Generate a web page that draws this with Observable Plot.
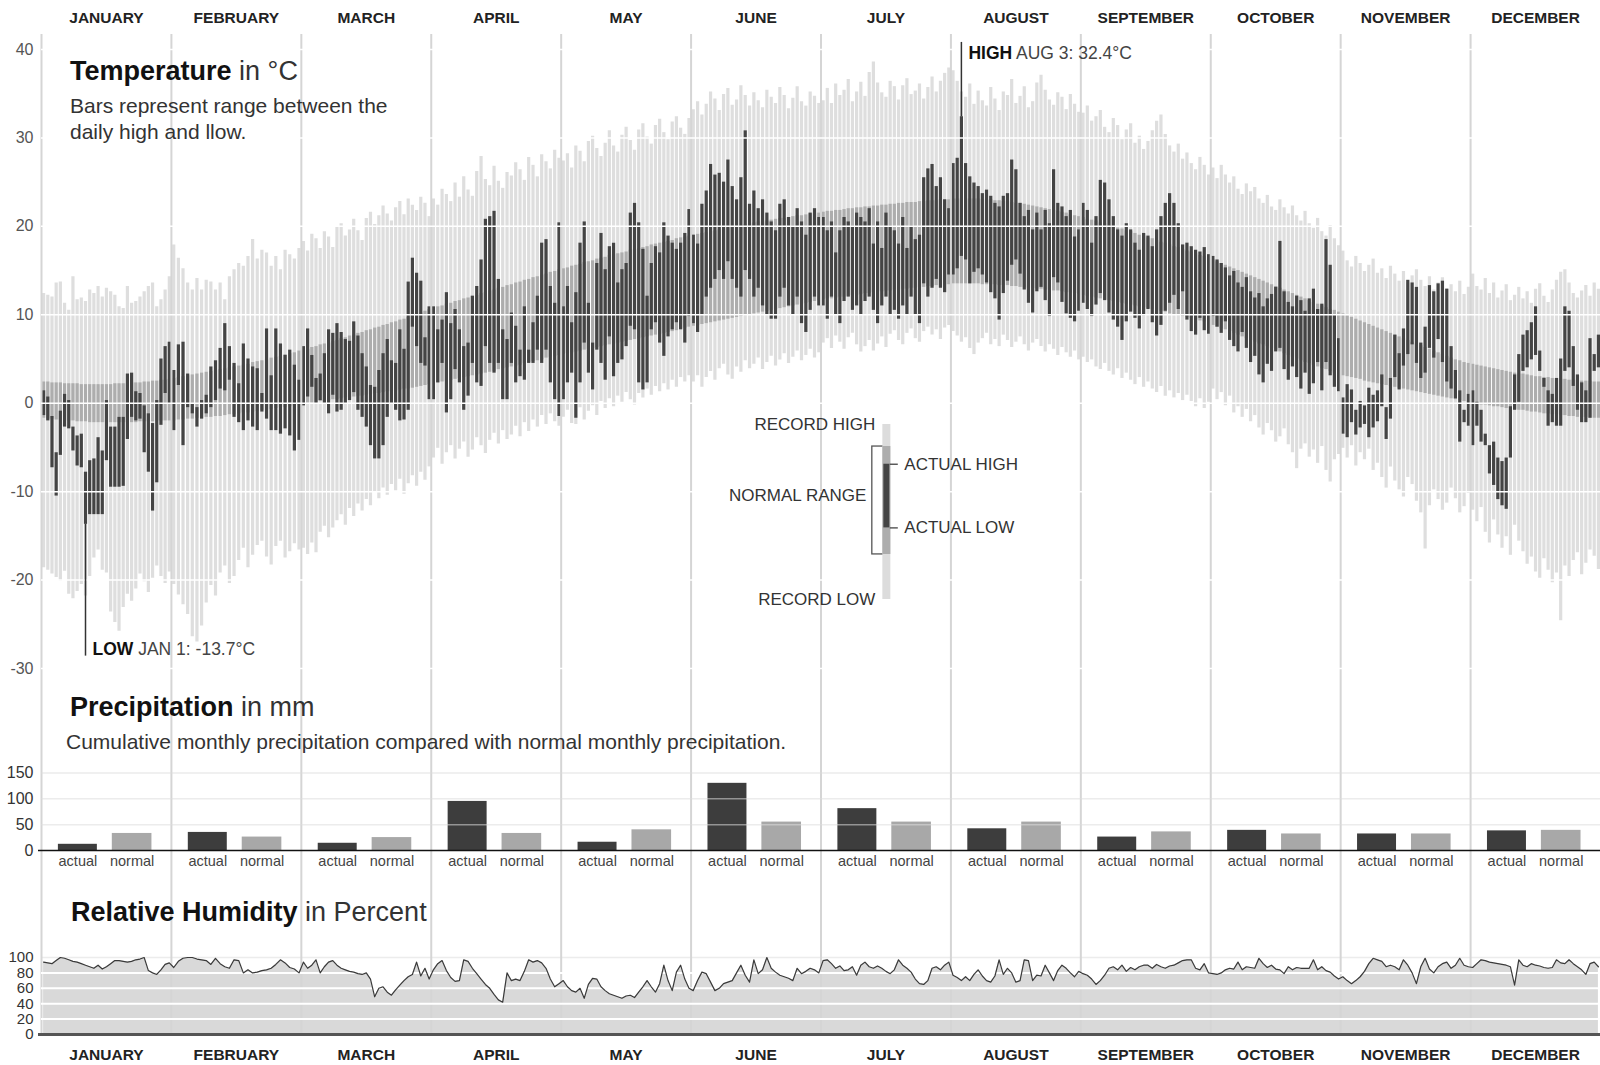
<!DOCTYPE html>
<html><head><meta charset="utf-8">
<script src="https://cdn.jsdelivr.net/npm/d3@7"></script>
<script src="https://cdn.jsdelivr.net/npm/@observablehq/plot@0.6"></script>
<style>
body{margin:0;background:#fff;}
#chart{position:relative;width:1600px;height:1065px;font-family:"Liberation Sans",Arial,Helvetica,sans-serif;color:#222;overflow:hidden;background:#fff}
#chart svg{position:absolute;left:0}
.title{position:absolute;font-size:27px;line-height:27px;white-space:nowrap;color:#111;font-weight:700}
.title span{font-weight:400;color:#333}
.sub{position:absolute;font-size:21px;line-height:26px;color:#333;white-space:nowrap}
</style></head><body><div id="chart"></div>
<script>
const FONT = '"Liberation Sans", Arial, Helvetica, sans-serif';
const months = ["JANUARY","FEBRUARY","MARCH","APRIL","MAY","JUNE","JULY","AUGUST","SEPTEMBER","OCTOBER","NOVEMBER","DECEMBER"];
const daysInMonth = [31,28,31,30,31,30,31,31,30,31,30,31];
const tempTicks = [-30,-20,-10,0,10,20,30,40];
const precipTicks = [0,50,100,150];
const humidityTicks = [0,20,40,60,80,100];

const recordHigh = [
12.4,12.2,12.0,13.6,13.7,11.3,10.5,14.3,11.7,11.9,11.5,12.8,12.4,13.2,12.0,13.0,12.6,12.2,10.9,10.7,13.2,11.3,11.5,12.0,12.6,13.2,13.6,10.9,11.7,12.8,14.3,
17.9,16.4,15.2,13.6,12.8,14.1,12.8,13.9,13.7,12.8,13.6,11.7,14.3,15.1,15.8,15.5,16.6,18.5,16.3,17.3,17.0,15.5,16.6,15.1,17.3,16.8,16.3,17.5,
18.3,17.2,19.1,18.6,17.5,19.4,18.8,17.6,19.9,20.3,18.9,19.6,20.8,19.5,18.4,20.9,21.6,20.2,21.2,22.3,21.4,20.6,22.1,22.8,21.3,23.1,22.4,21.8,23.3,22.6,21.1,
23.1,22.4,24.2,23.6,22.8,24.9,23.3,25.6,24.1,23.4,26.2,27.9,25.3,24.6,26.8,25.1,24.3,26.1,25.7,27.2,26.4,25.2,27.8,26.9,25.6,28.1,27.3,26.5,28.6,27.7,
27.4,28.2,26.6,29.1,28.5,27.3,29.6,30.2,28.8,27.9,29.4,30.8,29.1,28.4,30.3,31.2,29.7,28.6,30.9,31.6,30.1,29.3,31.4,32.1,30.6,29.8,31.8,32.4,31.1,30.4,32.2,
33.2,34.1,32.6,33.8,35.2,34.4,33.1,34.9,35.6,33.7,34.3,35.9,34.8,33.6,35.1,34.2,33.4,35.4,34.6,33.9,35.7,34.8,33.3,34.5,35.8,34.1,33.6,35.2,34.7,33.9,
34.2,35.6,33.9,36.1,34.8,35.4,36.6,34.1,35.2,36.3,34.7,37.4,38.6,36.2,35.1,34.6,36.4,35.8,34.3,35.9,36.7,34.9,35.3,36.1,34.4,35.7,36.9,35.2,36.4,37.3,37.9,
37.6,36.4,35.2,34.6,36.1,33.8,35.3,34.2,33.6,35.7,34.4,33.1,35.2,34.8,36.6,33.9,34.7,35.8,33.4,34.1,36.2,37.1,35.4,34.3,33.7,35.1,34.6,33.2,34.9,33.8,32.9,
32.8,33.6,31.9,32.4,33.1,31.2,30.6,32.2,31.4,29.8,30.9,31.6,29.4,30.2,28.7,29.6,30.8,31.9,32.6,30.4,29.1,28.4,29.3,27.6,28.3,27.1,26.4,27.8,26.9,25.8,
26.6,25.4,26.9,25.8,24.9,25.6,24.2,23.6,24.8,23.9,24.4,23.1,22.6,23.5,22.2,21.8,23.0,22.1,21.4,22.3,21.2,20.6,21.7,20.3,19.8,20.9,19.4,18.9,20.1,18.6,17.8,
17.2,16.1,15.4,16.6,15.8,14.9,15.6,16.3,14.7,15.2,14.1,15.5,14.6,13.8,14.9,13.6,14.4,15.1,13.9,13.2,14.3,12.8,13.6,14.2,12.9,13.4,12.6,13.8,12.3,13.1,
14.6,13.2,12.8,14.1,12.4,13.6,11.9,12.7,13.4,11.6,12.2,13.1,11.8,12.6,11.3,12.9,13.5,12.1,11.4,12.8,13.9,14.8,15.1,13.6,12.4,11.9,12.7,13.3,12.1,13.6,12.9];

const recordLow = [
-18.6,-18.9,-19.3,-19.7,-20.1,-19.0,-21.6,-22.1,-21.3,-20.5,-21.8,-19.6,-17.5,-16.6,-18.9,-19.2,-23.6,-24.8,-25.8,-23.1,-21.6,-22.4,-21.0,-19.3,-20.2,-21.4,-19.8,-18.4,-19.6,-20.4,-19.1,
-20.5,-21.7,-22.8,-23.9,-26.4,-27.0,-25.2,-22.6,-20.6,-21.8,-19.2,-18.4,-20.4,-19.6,-17.8,-16.4,-18.6,-17.2,-16.1,-15.6,-17.4,-18.3,-16.2,-15.6,-17.5,-16.8,-15.9,-16.6,
-16.4,-17.1,-15.8,-16.9,-14.6,-13.9,-15.2,-14.1,-13.3,-12.6,-13.8,-11.9,-12.8,-11.4,-12.2,-10.9,-11.6,-10.1,-10.8,-9.6,-10.4,-9.2,-9.9,-8.6,-10.3,-9.1,-8.2,-9.4,-7.8,-8.7,-7.2,
-6.2,-5.1,-6.9,-5.6,-4.8,-6.3,-5.2,-4.4,-6.1,-5.3,-3.9,-4.8,-5.7,-4.2,-3.4,-4.6,-3.1,-4.1,-3.6,-2.6,-3.8,-2.2,-3.2,-1.9,-2.7,-1.4,-2.4,-1.2,-2.1,-2.6,
-1.6,-0.8,-2.3,-2.4,-0.5,-1.9,-0.9,-0.3,-1.4,0.2,-0.6,0.5,-0.4,0.8,0.1,1.2,0.4,-0.2,1.1,0.6,1.6,0.9,1.9,1.3,2.2,1.5,2.6,1.8,2.9,2.4,3.1,
2.4,3.1,1.8,2.9,3.6,2.6,3.9,4.4,3.2,2.7,4.1,3.5,4.8,3.9,4.4,5.1,3.8,4.6,5.3,4.2,4.9,5.6,4.5,5.2,5.9,4.8,5.4,6.1,5.1,5.7,
6.8,7.3,6.2,7.6,6.9,6.1,7.4,7.9,6.6,5.8,6.4,7.1,5.9,6.7,7.5,6.3,7.8,8.2,7.1,6.6,7.9,8.4,7.3,6.9,8.1,8.6,7.7,8.3,7.2,8.5,8.8,
8.1,7.6,6.9,7.4,6.2,5.5,6.8,7.3,7.9,6.6,7.2,6.4,7.7,7.1,6.3,6.9,7.5,6.6,5.9,6.8,7.2,6.4,5.8,6.6,6.1,5.4,6.3,5.7,5.2,5.9,4.9,
5.2,4.6,4.9,4.1,3.8,4.5,3.6,3.2,3.9,2.8,3.4,2.6,2.1,2.9,1.8,2.4,1.6,1.2,1.9,0.8,1.4,0.6,1.1,0.3,0.9,0.2,-0.4,0.5,-0.6,0.1,
1.6,0.4,1.2,-0.3,0.8,-1.1,-0.4,-1.6,-0.7,-2.1,-1.4,-2.8,-3.6,-2.3,-3.1,-4.4,-3.8,-2.9,-4.7,-5.6,-7.4,-5.2,-4.6,-6.1,-5.3,-6.8,-4.9,-7.6,-8.9,-6.4,-5.8,
-5.1,-6.2,-4.8,-7.1,-5.6,-6.4,-5.2,-7.6,-6.8,-8.4,-9.6,-7.2,-8.8,-9.8,-10.6,-8.4,-9.2,-11.1,-12.4,-16.5,-11.6,-9.8,-10.9,-12.1,-11.3,-9.6,-10.8,-12.4,-11.7,-10.2,
-12.1,-13.4,-11.8,-14.6,-15.8,-13.2,-14.9,-16.4,-15.1,-17.2,-13.8,-15.6,-16.8,-18.2,-17.4,-19.1,-19.8,-17.6,-18.9,-20.3,-19.2,-24.6,-18.4,-19.6,-17.8,-16.9,-19.4,-18.1,-16.6,-17.3,-18.8];

const normalHigh = [
2.4,2.4,2.3,2.3,2.3,2.2,2.2,2.2,2.2,2.1,2.1,2.1,2.1,2.1,2.1,2.1,2.1,2.2,2.2,2.2,2.2,2.3,2.3,2.3,2.4,2.4,2.5,2.5,2.6,2.6,2.7,
2.8,2.9,3.0,3.1,3.2,3.3,3.4,3.5,3.6,3.7,3.8,3.9,4.0,4.1,4.2,4.3,4.4,4.6,4.7,4.8,4.9,5.1,5.2,5.3,5.5,5.6,5.7,5.9,
6.0,6.1,6.3,6.4,6.6,6.7,6.8,7.0,7.1,7.3,7.4,7.6,7.7,7.9,8.0,8.2,8.3,8.5,8.6,8.8,8.9,9.1,9.2,9.4,9.5,9.7,9.9,10.0,10.2,10.4,10.6,
10.7,10.9,11.0,11.2,11.3,11.5,11.6,11.8,11.9,12.1,12.2,12.4,12.5,12.7,12.8,13.0,13.1,13.3,13.4,13.6,13.7,13.9,14.0,14.2,14.3,14.5,14.6,14.8,14.9,15.1,
15.2,15.3,15.5,15.6,15.7,15.9,16.0,16.1,16.3,16.4,16.5,16.7,16.8,16.9,17.0,17.1,17.3,17.4,17.5,17.6,17.7,17.9,18.0,18.1,18.2,18.3,18.4,18.6,18.7,18.8,18.9,
19.0,19.1,19.2,19.3,19.4,19.5,19.6,19.7,19.8,19.9,20.0,20.1,20.2,20.3,20.4,20.5,20.5,20.6,20.7,20.8,20.9,20.9,21.0,21.1,21.2,21.2,21.3,21.4,21.5,21.5,
21.6,21.7,21.7,21.8,21.8,21.9,22.0,22.0,22.1,22.1,22.2,22.2,22.3,22.3,22.4,22.4,22.5,22.5,22.6,22.6,22.7,22.7,22.7,22.8,22.8,22.9,22.9,22.9,23.0,23.0,23.0,
23.1,23.1,23.1,23.1,23.1,23.1,23.1,23.0,23.0,23.0,22.9,22.9,22.8,22.8,22.7,22.6,22.6,22.5,22.4,22.3,22.2,22.1,22.0,21.9,21.8,21.7,21.6,21.5,21.3,21.2,21.1,
21.0,20.8,20.7,20.6,20.4,20.3,20.1,20.0,19.8,19.7,19.5,19.4,19.2,19.0,18.9,18.7,18.6,18.4,18.2,18.1,17.9,17.7,17.6,17.4,17.2,17.1,16.9,16.7,16.6,16.4,
16.2,16.0,15.8,15.6,15.4,15.2,15.0,14.8,14.6,14.4,14.2,14.0,13.8,13.6,13.4,13.2,13.0,12.8,12.6,12.4,12.2,12.0,11.8,11.6,11.4,11.2,11.0,10.8,10.6,10.5,10.3,
10.1,9.9,9.7,9.5,9.3,9.1,8.9,8.7,8.5,8.3,8.1,7.9,7.7,7.5,7.3,7.1,6.9,6.7,6.5,6.3,6.1,5.9,5.7,5.5,5.3,5.1,4.9,4.8,4.6,4.5,
4.4,4.3,4.2,4.1,4.0,3.9,3.8,3.7,3.6,3.5,3.4,3.3,3.3,3.2,3.1,3.0,3.0,2.9,2.9,2.8,2.8,2.7,2.7,2.6,2.6,2.6,2.5,2.5,2.5,2.4,2.4];

const normalLow = [
-1.7,-1.8,-1.8,-1.9,-1.9,-2.0,-2.0,-2.0,-2.1,-2.1,-2.1,-2.2,-2.2,-2.2,-2.2,-2.2,-2.2,-2.2,-2.2,-2.2,-2.2,-2.2,-2.2,-2.1,-2.1,-2.1,-2.1,-2.0,-2.0,-2.0,-2.0,
-2.0,-1.9,-1.9,-1.8,-1.8,-1.7,-1.7,-1.6,-1.6,-1.5,-1.5,-1.4,-1.3,-1.3,-1.2,-1.1,-1.1,-1.0,-0.9,-0.8,-0.8,-0.7,-0.6,-0.5,-0.5,-0.4,-0.3,-0.2,
-0.1,0.0,0.0,0.1,0.2,0.2,0.3,0.4,0.4,0.5,0.6,0.6,0.7,0.8,0.8,0.9,1.0,1.1,1.1,1.2,1.3,1.3,1.4,1.5,1.6,1.6,1.7,1.8,1.9,2.0,2.1,
2.2,2.3,2.4,2.5,2.6,2.7,2.8,2.9,3.0,3.1,3.2,3.3,3.4,3.5,3.6,3.8,3.9,4.0,4.1,4.2,4.3,4.5,4.6,4.7,4.8,4.9,5.1,5.2,5.3,5.4,
5.5,5.6,5.7,5.8,5.9,6.0,6.1,6.2,6.3,6.4,6.5,6.6,6.7,6.8,6.9,7.0,7.1,7.2,7.3,7.4,7.5,7.6,7.7,7.8,7.9,8.0,8.1,8.2,8.4,8.5,8.6,
8.7,8.8,8.9,9.0,9.1,9.2,9.3,9.4,9.5,9.6,9.7,9.8,9.9,10.0,10.1,10.2,10.3,10.4,10.5,10.6,10.7,10.8,10.9,11.0,11.1,11.2,11.3,11.4,11.5,11.6,
11.7,11.8,11.8,11.9,12.0,12.0,12.1,12.2,12.2,12.3,12.4,12.4,12.5,12.6,12.6,12.7,12.7,12.8,12.8,12.9,12.9,13.0,13.0,13.1,13.1,13.2,13.2,13.3,13.3,13.4,13.4,
13.5,13.5,13.5,13.5,13.5,13.5,13.5,13.4,13.4,13.4,13.4,13.3,13.3,13.3,13.2,13.2,13.1,13.1,13.0,13.0,12.9,12.9,12.8,12.8,12.7,12.7,12.6,12.5,12.5,12.4,12.3,
12.2,12.1,12.0,11.9,11.8,11.7,11.6,11.5,11.4,11.3,11.2,11.1,11.0,10.9,10.8,10.7,10.6,10.5,10.4,10.3,10.1,10.0,9.9,9.8,9.7,9.6,9.4,9.3,9.2,9.0,
8.8,8.6,8.4,8.3,8.1,7.9,7.7,7.5,7.3,7.1,6.9,6.7,6.6,6.4,6.2,6.0,5.8,5.6,5.4,5.2,5.0,4.8,4.6,4.5,4.3,4.1,3.9,3.8,3.6,3.4,3.3,
3.1,3.0,2.9,2.8,2.7,2.5,2.4,2.3,2.2,2.1,2.0,1.9,1.8,1.7,1.6,1.5,1.4,1.3,1.2,1.1,1.0,0.9,0.8,0.7,0.6,0.5,0.4,0.3,0.2,0.1,
0.0,-0.1,-0.2,-0.2,-0.3,-0.4,-0.4,-0.5,-0.6,-0.6,-0.7,-0.8,-0.8,-0.9,-1.0,-1.0,-1.1,-1.2,-1.2,-1.3,-1.3,-1.4,-1.4,-1.5,-1.5,-1.6,-1.6,-1.6,-1.7,-1.7,-1.7];

const actualHigh = [
1.4,0.7,-1.5,-5.6,-0.9,1.0,0.3,-2.7,-3.7,-3.5,-7.8,-6.5,-6.3,-3.9,-5.4,0.3,-2.7,-2.7,-1.6,-1.6,3.3,3.4,1.3,1.1,-0.3,-1.2,-2.3,0.3,5.0,6.4,6.9,
3.7,6.6,6.9,3.3,-0.1,-0.5,0.3,0.9,4.1,4.8,6.2,9.0,6.4,4.5,2.2,6.7,5.0,4.1,3.9,1.1,8.4,3.1,8.4,6.7,5.4,6.0,4.3,2.6,
6.4,8.4,5.4,2.8,3.3,5.6,8.3,7.9,9.0,8.0,7.2,7.0,9.2,7.6,5.6,4.1,2.0,1.8,3.7,5.6,7.2,4.8,4.5,8.3,6.1,13.7,16.4,14.7,13.8,7.4,10.9,
10.9,8.3,9.4,12.5,9.0,10.6,8.3,6.4,6.8,12.1,13.2,16.2,20.8,21.1,21.7,14.0,8.3,7.2,10.2,8.7,6.0,10.9,6.0,9.1,12.1,18.1,18.5,13.2,11.3,20.4,
10.9,13.2,9.1,12.5,18.1,20.5,11.3,6.8,15.8,19.2,15.1,17.7,18.1,13.6,15.1,15.8,21.5,22.6,20.4,17.4,12.1,15.8,17.7,17.0,20.4,18.9,18.1,17.4,18.1,19.2,21.9,
19.0,18.0,22.5,24.0,27.0,25.8,26.0,25.0,27.5,24.5,23.0,25.5,30.8,22.5,24.0,22.0,23.0,21.5,20.5,19.5,22.5,23.0,21.0,20.0,22.0,20.5,19.0,21.5,22.0,21.0,
21.0,19.5,20.5,17.0,19.5,21.0,20.5,20.0,21.5,21.0,20.5,22.0,18.0,20.5,17.5,21.5,20.0,19.5,18.0,21.0,17.5,20.0,18.5,19.0,25.5,26.5,27.0,24.5,25.5,23.0,22.0,
27.1,27.7,32.4,27.1,25.6,24.9,24.5,23.7,24.1,23.4,22.6,22.2,23.4,23.7,27.5,26.4,22.6,21.1,21.8,19.6,21.5,19.6,21.8,20.3,26.4,22.6,22.2,21.1,21.8,18.8,19.6,
22.6,21.8,18.1,21.1,25.2,24.9,23.0,21.1,19.6,18.9,20.3,19.6,18.1,17.3,19.2,18.9,17.7,19.6,21.1,22.6,23.7,22.6,20.3,17.9,18.1,17.7,17.3,17.1,17.6,16.8,
16.6,16.2,15.8,15.3,14.4,14.9,13.6,13.1,14.2,12.6,11.9,12.4,10.9,11.8,12.3,13.1,18.3,12.6,11.4,10.9,12.1,11.6,10.4,11.8,12.9,10.6,11.2,18.5,15.6,10.0,7.3,
0.6,2.1,1.5,-0.8,0.2,-0.3,1.7,0.9,1.4,3.2,-0.5,2.8,7.7,5.6,8.4,13.9,13.6,13.1,6.8,8.6,13.3,12.6,13.5,13.8,12.9,6.4,3.7,1.4,-0.8,1.0,
1.4,0.1,-0.8,-3.5,-4.8,-4.4,-6.2,-6.6,-6.2,-0.4,3.2,5.5,7.7,8.2,9.1,10.9,5.9,2.8,1.4,1.0,2.8,5.0,10.9,10.4,6.4,3.2,2.3,1.4,7.3,5.5,7.7];

const actualLow = [
-1.4,-2.0,-7.3,-10.5,-5.9,-2.7,-2.9,-5.4,-7.1,-7.3,-13.7,-12.6,-12.6,-12.6,-12.6,-6.5,-9.5,-9.5,-9.5,-9.4,-4.1,-1.6,-2.0,-1.8,-5.6,-7.8,-12.2,-9.0,-2.5,1.1,-0.1,
-3.1,2.0,-4.8,-0.5,-1.2,-2.7,-1.8,-1.2,-0.5,0.3,1.6,1.4,2.6,-1.6,-2.2,-3.1,-2.0,-2.7,-3.1,-1.0,-1.8,-3.1,-3.1,-3.5,-2.9,-3.7,-5.4,-4.2,
-0.3,0.7,1.8,-0.1,0.3,-0.1,-1.2,0.9,-1.0,-0.8,-0.1,0.3,1.2,-0.8,-1.6,-2.7,-4.8,-6.3,-6.3,-4.8,-1.6,-0.1,-0.8,-2.0,-1.9,-0.8,8.6,6.4,4.5,4.2,0.4,
0.4,2.3,4.5,-1.1,0.4,3.8,2.3,-0.8,0.8,4.5,2.3,1.9,6.4,4.5,3.4,4.5,0.4,0.4,4.5,2.3,3.0,2.6,4.5,4.5,6.0,4.5,6.0,2.3,0.4,-1.5,
0.4,2.3,3.4,-1.7,2.3,6.8,3.4,1.5,6.0,4.5,2.6,7.5,3.0,4.5,4.9,6.4,8.7,8.3,2.3,1.5,2.3,8.3,9.1,6.8,5.3,7.5,8.3,9.1,8.3,6.8,9.8,
9.0,8.0,10.0,12.0,13.0,14.0,15.0,14.0,16.0,14.0,13.0,12.0,15.0,14.0,12.0,13.0,11.0,10.0,9.5,9.5,12.0,13.0,11.0,10.0,12.0,9.0,8.0,10.5,12.0,11.0,
11.0,9.5,12.0,10.0,9.0,11.5,12.0,10.5,11.0,10.0,11.5,12.0,10.5,9.0,11.0,12.0,10.0,10.5,9.5,11.0,10.0,12.0,10.0,9.0,13.5,12.0,13.0,14.0,13.0,12.5,14.5,
14.5,15.2,16.6,16.2,13.5,14.8,15.2,14.5,13.6,12.5,11.8,9.4,12.4,13.8,15.6,16.2,14.6,12.8,11.3,10.2,12.6,13.1,11.6,9.8,14.2,13.6,11.4,10.1,9.6,9.2,10.4,
11.3,10.6,9.8,11.1,12.4,11.6,10.2,9.4,8.6,7.1,9.2,10.3,9.6,8.4,9.9,10.6,9.1,7.6,8.8,10.4,11.3,12.2,10.6,12.6,9.4,8.1,7.7,9.6,8.2,7.8,
9.8,8.6,7.9,9.2,7.1,6.4,5.8,8.0,6.2,4.6,5.3,3.2,2.3,4.4,3.6,5.8,6.2,3.8,2.6,4.1,2.9,1.6,3.4,1.0,2.2,4.6,1.4,4.6,3.1,1.8,1.3,
-3.5,-3.9,-2.2,-3.6,-2.8,-2.4,-3.9,-2.8,-2.1,-0.4,-4.1,-1.8,2.9,1.5,4.2,5.5,6.6,4.5,2.8,3.4,6.2,5.1,7.2,4.6,2.4,1.6,0.5,-4.4,-2.2,-2.6,
-4.8,-2.6,-4.4,-4.8,-8.0,-9.3,-10.9,-11.6,-12.0,-6.2,-0.8,0.1,3.6,4.0,4.9,5.4,3.6,1.8,-2.6,-2.2,-2.6,-2.6,3.6,4.0,1.9,-0.8,-2.2,-2.2,-1.7,3.6,4.0];

const humidity = [
94,93,92,96,100,99,97,95,94,92,90,88,86,90,85,88,92,96,96,95,94,95,97,98,100,83,80,78,84,91,93,
87,95,99,100,100,98,97,96,91,99,92,88,86,97,96,80,84,80,81,83,84,86,91,97,93,87,85,80,
94,86,90,97,80,88,94,96,90,86,84,82,81,79,78,80,72,49,60,62,55,51,58,64,70,75,78,94,76,86,72,
84,92,96,83,74,69,70,97,95,86,79,72,65,60,52,45,42,80,70,72,70,82,97,94,96,93,86,72,62,66,
70,62,57,55,60,47,65,73,72,62,57,53,51,49,47,50,51,48,55,62,70,62,55,66,90,70,57,81,90,72,60,
57,70,81,79,68,57,60,66,68,70,80,90,77,68,97,79,84,100,86,81,77,75,73,70,86,79,82,86,84,80,
96,97,92,86,89,83,84,88,77,90,94,88,86,89,86,82,79,84,97,90,86,81,72,66,65,70,86,88,84,90,94,
77,74,70,75,70,78,84,76,70,68,76,97,78,86,80,68,70,97,96,70,77,76,90,80,70,83,90,86,80,75,82,
79,77,72,65,70,77,86,88,84,90,82,87,84,88,90,90,86,91,88,86,89,90,93,96,97,97,86,84,92,80,
79,78,80,84,86,85,94,84,88,87,86,99,92,87,90,85,84,79,88,84,87,86,86,86,97,84,88,83,81,76,72,
75,70,66,70,75,82,92,99,97,95,88,90,88,84,97,90,80,66,88,99,85,80,88,92,94,86,90,99,90,88,
87,92,97,96,94,93,92,91,90,88,64,97,90,88,92,90,89,87,86,87,97,93,92,97,92,88,84,78,92,94,88];

const precipActual = [12,35,14,95,16,130,81,42,26,39,32,38];
const precipNormal = [33,26,25,33,40,55,55,55,36,32,32,39];

const extremes = [
  {label: "LOW", note: "JAN 1: -13.7°C", month: 0, day: 11, value: -13.7},
  {label: "HIGH", note: "AUG 3: 32.4°C", month: 7, day: 3, value: 32.4}
];

// ---------- build tables ----------
for (const [name, arr] of Object.entries({recordHigh, recordLow, normalHigh, normalLow, actualHigh, actualLow, humidity})) {
  if (arr.length !== 365) throw new Error(name + " has " + arr.length + " values");
}
const dayPos = (m, d) => m + (d - 0.5) / daysInMonth[m];
const days = [];
{
  let k = 0;
  for (let m = 0; m < 12; ++m) for (let d = 1; d <= daysInMonth[m]; ++d, ++k) {
    days.push({x: dayPos(m, d), recordHigh: recordHigh[k], recordLow: recordLow[k], normalHigh: normalHigh[k], normalLow: normalLow[k], actualHigh: actualHigh[k], actualLow: actualLow[k], humidity: humidity[k]});
  }
}
const monthIdx = d3.range(12);
const precip = monthIdx.map(i => ({i, actual: precipActual[i], normal: precipNormal[i]}));
const ext = extremes.map(e => ({...e, x: dayPos(e.month, e.day)}));

const RULE = "#d5d5d5";
const chart = document.getElementById("chart");

// ---------- temperature ----------
const key = [{x: 6.503, recordHigh: -2.4, recordLow: -22.2, normalHigh: -4.9, normalLow: -17.1, actualHigh: -6.9, actualLow: -14.1}];
const legendText = {fontSize: 17, fill: "#333", fontFamily: FONT};
const tempSvg = Plot.plot({
  width: 1600, height: 680,
  marginLeft: 41, marginRight: 0, marginTop: 49, marginBottom: 12,
  style: {background: "transparent", overflow: "visible", fontFamily: FONT, fontSize: "16px", color: "#555"},
  x: {domain: [0, 12], axis: null},
  y: {domain: [-30, 40], ticks: tempTicks, tickSize: 0, tickPadding: 8, tickFormat: d => String(d), label: null},
  marks: [
    Plot.ruleX(days, {x: "x", y1: "recordLow", y2: "recordHigh", stroke: "#dedede", strokeWidth: 3.2}),
    Plot.ruleX(days, {x: "x", y1: "normalLow", y2: "normalHigh", stroke: "#adadad", strokeWidth: 3.2}),
    Plot.ruleX(days, {x: "x", y1: "actualLow", y2: "actualHigh", stroke: "#444", strokeWidth: 3.2}),
    Plot.ruleX(monthIdx, {x: d => d, stroke: RULE, strokeWidth: 2, insetTop: -15, insetBottom: -12}),
    Plot.ruleY(tempTicks, {y: d => d, stroke: "white", strokeWidth: 1.5}),
    Plot.text(months, {x: (d, i) => i + 0.5, frameAnchor: "top", lineAnchor: "middle", dy: -31, text: d => d, fontWeight: "bold", fontSize: 15.5, fill: "#222", fontFamily: FONT}),
    // extremes
    Plot.ruleX(ext.filter(e => e.label === "LOW"), {x: "x", y1: "value", y2: -28.6, stroke: "#333", strokeWidth: 1.5}),
    Plot.ruleX(ext.filter(e => e.label === "HIGH"), {x: "x", y1: "value", y2: 40.8, stroke: "#333", strokeWidth: 1.5}),
    Plot.text(ext, {x: "x", y: e => e.label === "LOW" ? -27.8 : 39.6, dx: 7, textAnchor: "start", text: e => e.label + " " + e.note, fontSize: 17.5, fill: "#444", fontFamily: FONT}),
    // legend key
    Plot.rect(key, {x1: d => d.x - 0.108, x2: d => d.x, y1: "normalLow", y2: "normalHigh", fill: "white", stroke: "#555", strokeWidth: 1.3}),
    Plot.ruleX(key, {x: "x", y1: "recordLow", y2: "recordHigh", stroke: "#dcdcdc", strokeWidth: 8}),
    Plot.ruleX(key, {x: "x", y1: "normalLow", y2: "normalHigh", stroke: "#adadad", strokeWidth: 8}),
    Plot.ruleX(key, {x: "x", y1: "actualLow", y2: "actualHigh", stroke: "#444", strokeWidth: 6}),
    Plot.ruleY(key, {y: "actualHigh", x1: d => d.x + 0.03, x2: d => d.x + 0.092, stroke: "#444", strokeWidth: 1.3}),
    Plot.ruleY(key, {y: "actualLow", x1: d => d.x + 0.03, x2: d => d.x + 0.092, stroke: "#444", strokeWidth: 1.3}),
    Plot.text(key, {x: "x", y: "recordHigh", dx: -11, textAnchor: "end", text: () => "RECORD HIGH", ...legendText}),
    Plot.text(key, {x: "x", y: "recordLow", dx: -11, textAnchor: "end", text: () => "RECORD LOW", ...legendText}),
    Plot.text(key, {x: "x", y: d => (d.normalHigh + d.normalLow) / 2 + 0.55, dx: -20, textAnchor: "end", text: () => "NORMAL RANGE", ...legendText}),
    Plot.text(key, {x: "x", y: "actualHigh", dx: 18, textAnchor: "start", text: () => "ACTUAL HIGH", ...legendText}),
    Plot.text(key, {x: "x", y: "actualLow", dx: 18, textAnchor: "start", text: () => "ACTUAL LOW", ...legendText})
  ]
});
tempSvg.style.top = "0px";
d3.select(tempSvg).selectAll("text").each(function() {
  const m = (this.textContent || "").match(/^(LOW|HIGH) (.*)$/);
  if (m) {
    const s = d3.select(this);
    s.text(null);
    s.append("tspan").attr("font-weight", "bold").attr("fill", "#111").text(m[1]);
    s.append("tspan").attr("fill", "#444").text(" " + m[2]);
  }
});
chart.appendChild(tempSvg);

// ---------- precipitation ----------
const precipSvg = Plot.plot({
  width: 1600, height: 200,
  marginLeft: 41, marginRight: 0, marginTop: 92.5, marginBottom: 30,
  style: {background: "transparent", overflow: "visible", fontFamily: FONT, fontSize: "16px", color: "#333"},
  x: {domain: [0, 12], axis: null},
  y: {domain: [0, 150], ticks: precipTicks, tickSize: 0, tickPadding: 8, tickFormat: d => String(d), label: null},
  marks: [
    Plot.ruleX(monthIdx, {x: d => d, stroke: RULE, strokeWidth: 2, insetTop: -92.5, insetBottom: -30}),
    Plot.rect(precip, {x1: d => d.i + 0.13, x2: d => d.i + 0.43, y1: 0, y2: "actual", fill: "#3d3d3d"}),
    Plot.rect(precip, {x1: d => d.i + 0.545, x2: d => d.i + 0.85, y1: 0, y2: "normal", fill: "#a8a8a8"}),
    Plot.ruleY([50, 100, 150], {stroke: "#dcdcdc", strokeOpacity: 0.55, strokeWidth: 1.5}),
    Plot.ruleY([0], {stroke: "#111", strokeWidth: 1.5, insetLeft: -3}),
    Plot.text(precip, {x: d => d.i + 0.28, frameAnchor: "bottom", lineAnchor: "middle", dy: 11, text: () => "actual", fontSize: 14.5, fill: "#444", fontFamily: FONT}),
    Plot.text(precip, {x: d => d.i + 0.6975, frameAnchor: "bottom", lineAnchor: "middle", dy: 11, text: () => "normal", fontSize: 14.5, fill: "#444", fontFamily: FONT})
  ]
});
precipSvg.style.top = "680px";
chart.appendChild(precipSvg);

// ---------- humidity ----------
const humSvg = Plot.plot({
  width: 1600, height: 185,
  marginLeft: 41, marginRight: 0, marginTop: 77, marginBottom: 31,
  style: {background: "transparent", overflow: "visible", fontFamily: FONT, fontSize: "15px", color: "#333"},
  x: {domain: [0, 12], axis: null},
  y: {domain: [0, 100], ticks: humidityTicks, tickSize: 0, tickPadding: 8, tickFormat: d => String(d), label: null},
  marks: [
    Plot.ruleY([100], {stroke: "#ececec", strokeWidth: 1.5}),
    Plot.areaY(days, {x: "x", y: "humidity", fill: "#d9d9d9"}),
    Plot.ruleX(monthIdx, {x: d => d, stroke: RULE, strokeWidth: 2, insetTop: -77}),
    Plot.ruleY([20, 40, 60, 80], {stroke: "white", strokeWidth: 2}),
    Plot.lineY(days, {x: "x", y: "humidity", stroke: "#3a3a3a", strokeWidth: 1.2}),
    Plot.ruleY([0], {stroke: "#555", strokeWidth: 3, insetLeft: -3}),
    Plot.text(months, {x: (d, i) => i + 0.5, frameAnchor: "bottom", lineAnchor: "middle", dy: 21, text: d => d, fontWeight: "bold", fontSize: 15.5, fill: "#222", fontFamily: FONT})
  ]
});
humSvg.style.top = "880px";
chart.appendChild(humSvg);

// ---------- titles ----------
function addHTML(cls, left, top, html) {
  const el = document.createElement("div");
  el.className = cls; el.style.left = left + "px"; el.style.top = top + "px"; el.innerHTML = html;
  chart.appendChild(el);
}
addHTML("title", 70, 58, "Temperature <span>in °C</span>");
addHTML("sub", 70, 93, "Bars represent range between the<br>daily high and llow.");
addHTML("title", 70, 694, "Precipitation <span>in mm</span>");
addHTML("sub", 66, 729, "Cumulative monthly precipitation compared with normal monthly precipitation.");
addHTML("title", 71, 899, "Relative Humidity <span>in Percent</span>");
</script></body></html>
